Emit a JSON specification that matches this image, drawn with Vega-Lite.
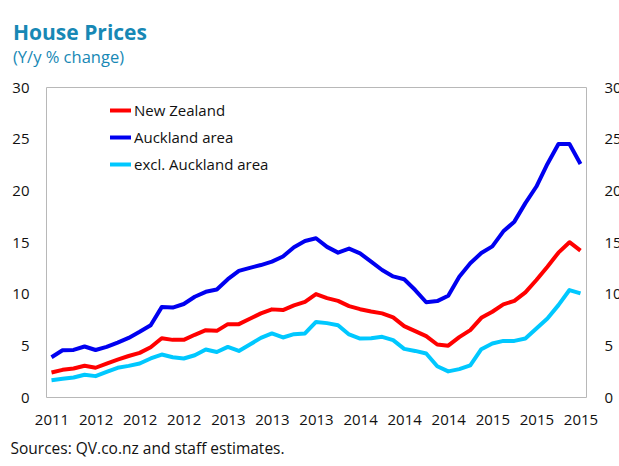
{
  "$schema": "https://vega.github.io/schema/vega-lite/v6.json",
  "autosize": {"type": "none"},
  "padding": {"left": 46, "top": 87, "right": 33, "bottom": 69},
  "width": 540,
  "height": 310,
  "background": "white",
  "config": {
    "font": "Open Sans",
    "view": {"stroke": "#b8b8b8", "strokeWidth": 1},
    "axis": {"grid": false, "domain": false, "ticks": false, "labelColor": "#111111", "labelFontSize": 15, "labelFont": "Open Sans"}
  },
  "title": {
    "text": "House Prices",
    "subtitle": "(Y/y % change)",
    "anchor": "start",
    "frame": "group",
    "dx": -33,
    "offset": 14,
    "fontSize": 21,
    "fontWeight": "bold",
    "color": "#1788b5",
    "subtitleFontSize": 16.5,
    "subtitleColor": "#1788b5",
    "subtitlePadding": 6,
    "font": "Open Sans",
    "subtitleFont": "Open Sans"
  },
  "datasets": {
    "prices": [
      {"month":"2011-12","series":"New Zealand","value":2.37},{"month":"2012-01","series":"New Zealand","value":2.63},{"month":"2012-02","series":"New Zealand","value":2.76},{"month":"2012-03","series":"New Zealand","value":3.02},{"month":"2012-04","series":"New Zealand","value":2.83},{"month":"2012-05","series":"New Zealand","value":3.24},{"month":"2012-06","series":"New Zealand","value":3.62},{"month":"2012-07","series":"New Zealand","value":3.97},{"month":"2012-08","series":"New Zealand","value":4.27},{"month":"2012-09","series":"New Zealand","value":4.82},{"month":"2012-10","series":"New Zealand","value":5.69},{"month":"2012-11","series":"New Zealand","value":5.53},{"month":"2012-12","series":"New Zealand","value":5.53},
      {"month":"2013-01","series":"New Zealand","value":6.02},{"month":"2013-02","series":"New Zealand","value":6.47},{"month":"2013-03","series":"New Zealand","value":6.4},{"month":"2013-04","series":"New Zealand","value":7.05},{"month":"2013-05","series":"New Zealand","value":7.05},{"month":"2013-06","series":"New Zealand","value":7.57},{"month":"2013-07","series":"New Zealand","value":8.09},{"month":"2013-08","series":"New Zealand","value":8.48},{"month":"2013-09","series":"New Zealand","value":8.41},{"month":"2013-10","series":"New Zealand","value":8.86},{"month":"2013-11","series":"New Zealand","value":9.21},{"month":"2013-12","series":"New Zealand","value":9.96},
      {"month":"2014-01","series":"New Zealand","value":9.57},{"month":"2014-02","series":"New Zealand","value":9.3},{"month":"2014-03","series":"New Zealand","value":8.8},{"month":"2014-04","series":"New Zealand","value":8.5},{"month":"2014-05","series":"New Zealand","value":8.28},{"month":"2014-06","series":"New Zealand","value":8.09},{"month":"2014-07","series":"New Zealand","value":7.7},{"month":"2014-08","series":"New Zealand","value":6.86},{"month":"2014-09","series":"New Zealand","value":6.37},{"month":"2014-10","series":"New Zealand","value":5.89},{"month":"2014-11","series":"New Zealand","value":5.08},{"month":"2014-12","series":"New Zealand","value":4.97},
      {"month":"2015-01","series":"New Zealand","value":5.79},{"month":"2015-02","series":"New Zealand","value":6.47},{"month":"2015-03","series":"New Zealand","value":7.66},{"month":"2015-04","series":"New Zealand","value":8.25},{"month":"2015-05","series":"New Zealand","value":8.96},{"month":"2015-06","series":"New Zealand","value":9.31},{"month":"2015-07","series":"New Zealand","value":10.13},{"month":"2015-08","series":"New Zealand","value":11.32},{"month":"2015-09","series":"New Zealand","value":12.61},{"month":"2015-10","series":"New Zealand","value":13.97},{"month":"2015-11","series":"New Zealand","value":14.98},{"month":"2015-12","series":"New Zealand","value":14.16},

      {"month":"2011-12","series":"Auckland area","value":3.85},{"month":"2012-01","series":"Auckland area","value":4.53},{"month":"2012-02","series":"Auckland area","value":4.56},{"month":"2012-03","series":"Auckland area","value":4.89},{"month":"2012-04","series":"Auckland area","value":4.55},{"month":"2012-05","series":"Auckland area","value":4.85},{"month":"2012-06","series":"Auckland area","value":5.27},{"month":"2012-07","series":"Auckland area","value":5.72},{"month":"2012-08","series":"Auckland area","value":6.31},{"month":"2012-09","series":"Auckland area","value":6.95},{"month":"2012-10","series":"Auckland area","value":8.7},{"month":"2012-11","series":"Auckland area","value":8.65},{"month":"2012-12","series":"Auckland area","value":9.0},
      {"month":"2013-01","series":"Auckland area","value":9.7},{"month":"2013-02","series":"Auckland area","value":10.18},{"month":"2013-03","series":"Auckland area","value":10.4},{"month":"2013-04","series":"Auckland area","value":11.4},{"month":"2013-05","series":"Auckland area","value":12.2},{"month":"2013-06","series":"Auckland area","value":12.5},{"month":"2013-07","series":"Auckland area","value":12.77},{"month":"2013-08","series":"Auckland area","value":13.1},{"month":"2013-09","series":"Auckland area","value":13.6},{"month":"2013-10","series":"Auckland area","value":14.5},{"month":"2013-11","series":"Auckland area","value":15.1},{"month":"2013-12","series":"Auckland area","value":15.36},
      {"month":"2014-01","series":"Auckland area","value":14.53},{"month":"2014-02","series":"Auckland area","value":13.97},{"month":"2014-03","series":"Auckland area","value":14.36},{"month":"2014-04","series":"Auckland area","value":13.9},{"month":"2014-05","series":"Auckland area","value":13.1},{"month":"2014-06","series":"Auckland area","value":12.29},{"month":"2014-07","series":"Auckland area","value":11.67},{"month":"2014-08","series":"Auckland area","value":11.39},{"month":"2014-09","series":"Auckland area","value":10.35},{"month":"2014-10","series":"Auckland area","value":9.17},{"month":"2014-11","series":"Auckland area","value":9.28},{"month":"2014-12","series":"Auckland area","value":9.8},
      {"month":"2015-01","series":"Auckland area","value":11.64},{"month":"2015-02","series":"Auckland area","value":12.94},{"month":"2015-03","series":"Auckland area","value":13.93},{"month":"2015-04","series":"Auckland area","value":14.58},{"month":"2015-05","series":"Auckland area","value":16.03},{"month":"2015-06","series":"Auckland area","value":16.97},{"month":"2015-07","series":"Auckland area","value":18.76},{"month":"2015-08","series":"Auckland area","value":20.37},{"month":"2015-09","series":"Auckland area","value":22.55},{"month":"2015-10","series":"Auckland area","value":24.48},{"month":"2015-11","series":"Auckland area","value":24.48},{"month":"2015-12","series":"Auckland area","value":22.54},

      {"month":"2011-12","series":"excl. Auckland area","value":1.62},{"month":"2012-01","series":"excl. Auckland area","value":1.76},{"month":"2012-02","series":"excl. Auckland area","value":1.89},{"month":"2012-03","series":"excl. Auckland area","value":2.15},{"month":"2012-04","series":"excl. Auckland area","value":2.02},{"month":"2012-05","series":"excl. Auckland area","value":2.43},{"month":"2012-06","series":"excl. Auckland area","value":2.83},{"month":"2012-07","series":"excl. Auckland area","value":3.01},{"month":"2012-08","series":"excl. Auckland area","value":3.24},{"month":"2012-09","series":"excl. Auckland area","value":3.73},{"month":"2012-10","series":"excl. Auckland area","value":4.11},{"month":"2012-11","series":"excl. Auckland area","value":3.85},{"month":"2012-12","series":"excl. Auckland area","value":3.73},
      {"month":"2013-01","series":"excl. Auckland area","value":4.04},{"month":"2013-02","series":"excl. Auckland area","value":4.6},{"month":"2013-03","series":"excl. Auckland area","value":4.36},{"month":"2013-04","series":"excl. Auckland area","value":4.85},{"month":"2013-05","series":"excl. Auckland area","value":4.46},{"month":"2013-06","series":"excl. Auckland area","value":5.08},{"month":"2013-07","series":"excl. Auckland area","value":5.72},{"month":"2013-08","series":"excl. Auckland area","value":6.15},{"month":"2013-09","series":"excl. Auckland area","value":5.76},{"month":"2013-10","series":"excl. Auckland area","value":6.08},{"month":"2013-11","series":"excl. Auckland area","value":6.15},{"month":"2013-12","series":"excl. Auckland area","value":7.26},
      {"month":"2014-01","series":"excl. Auckland area","value":7.15},{"month":"2014-02","series":"excl. Auckland area","value":6.95},{"month":"2014-03","series":"excl. Auckland area","value":6.05},{"month":"2014-04","series":"excl. Auckland area","value":5.66},{"month":"2014-05","series":"excl. Auckland area","value":5.69},{"month":"2014-06","series":"excl. Auckland area","value":5.82},{"month":"2014-07","series":"excl. Auckland area","value":5.5},{"month":"2014-08","series":"excl. Auckland area","value":4.66},{"month":"2014-09","series":"excl. Auckland area","value":4.46},{"month":"2014-10","series":"excl. Auckland area","value":4.21},{"month":"2014-11","series":"excl. Auckland area","value":2.98},{"month":"2014-12","series":"excl. Auckland area","value":2.48},
      {"month":"2015-01","series":"excl. Auckland area","value":2.7},{"month":"2015-02","series":"excl. Auckland area","value":3.07},{"month":"2015-03","series":"excl. Auckland area","value":4.63},{"month":"2015-04","series":"excl. Auckland area","value":5.18},{"month":"2015-05","series":"excl. Auckland area","value":5.43},{"month":"2015-06","series":"excl. Auckland area","value":5.43},{"month":"2015-07","series":"excl. Auckland area","value":5.66},{"month":"2015-08","series":"excl. Auckland area","value":6.63},{"month":"2015-09","series":"excl. Auckland area","value":7.6},{"month":"2015-10","series":"excl. Auckland area","value":8.89},{"month":"2015-11","series":"excl. Auckland area","value":10.35},{"month":"2015-12","series":"excl. Auckland area","value":10.03}
    ]
  },
  "data": {"name": "prices"},
  "layer": [
    {
      "mark": {"type": "line", "strokeWidth": 4, "strokeJoin": "round"},
      "encoding": {
        "x": {
          "field": "month", "type": "ordinal",
          "scale": {"type": "point", "padding": 0.5},
          "axis": {
            "values": ["2011-12","2012-04","2012-08","2012-12","2013-04","2013-08","2013-12","2014-04","2014-08","2014-12","2015-04","2015-08","2015-12"],
            "labelExpr": "slice(datum.value, 0, 4)",
            "labelAngle": 0,
            "labelPadding": 15,
            "title": "Sources: QV.co.nz and staff estimates.",
            "titleFontSize": 15.5,
            "titleFontWeight": "normal",
            "titleColor": "#111111",
            "titleAnchor": "start",
            "titleAlign": "left",
            "titleX": -36,
            "titlePadding": 14
          }
        },
        "y": {
          "field": "value", "type": "quantitative",
          "scale": {"domain": [0, 30], "nice": false},
          "axis": {"orient": "left", "values": [0,5,10,15,20,25,30], "labelPadding": 17, "title": null}
        },
        "color": {
          "field": "series", "type": "nominal",
          "scale": {"domain": ["New Zealand", "Auckland area", "excl. Auckland area"], "range": ["#ff0000", "#0000f0", "#00c8ff"]},
          "legend": {
            "orient": "none", "legendX": 62, "legendY": 11, "title": null,
            "symbolType": "stroke", "symbolStrokeWidth": 4, "symbolSize": 440,
            "labelFontSize": 15, "labelOffset": 1, "labelColor": "#111111", "rowPadding": 6, "padding": 0
          }
        }
      }
    },
    {
      "mark": {"type": "rule", "strokeOpacity": 0},
      "encoding": {
        "y": {
          "field": "value", "type": "quantitative",
          "scale": {"domain": [0, 30], "nice": false},
          "axis": {"orient": "right", "values": [0,5,10,15,20,25,30], "labelPadding": 18, "title": null}
        }
      }
    }
  ],
  "resolve": {"axis": {"y": "independent"}}
}
